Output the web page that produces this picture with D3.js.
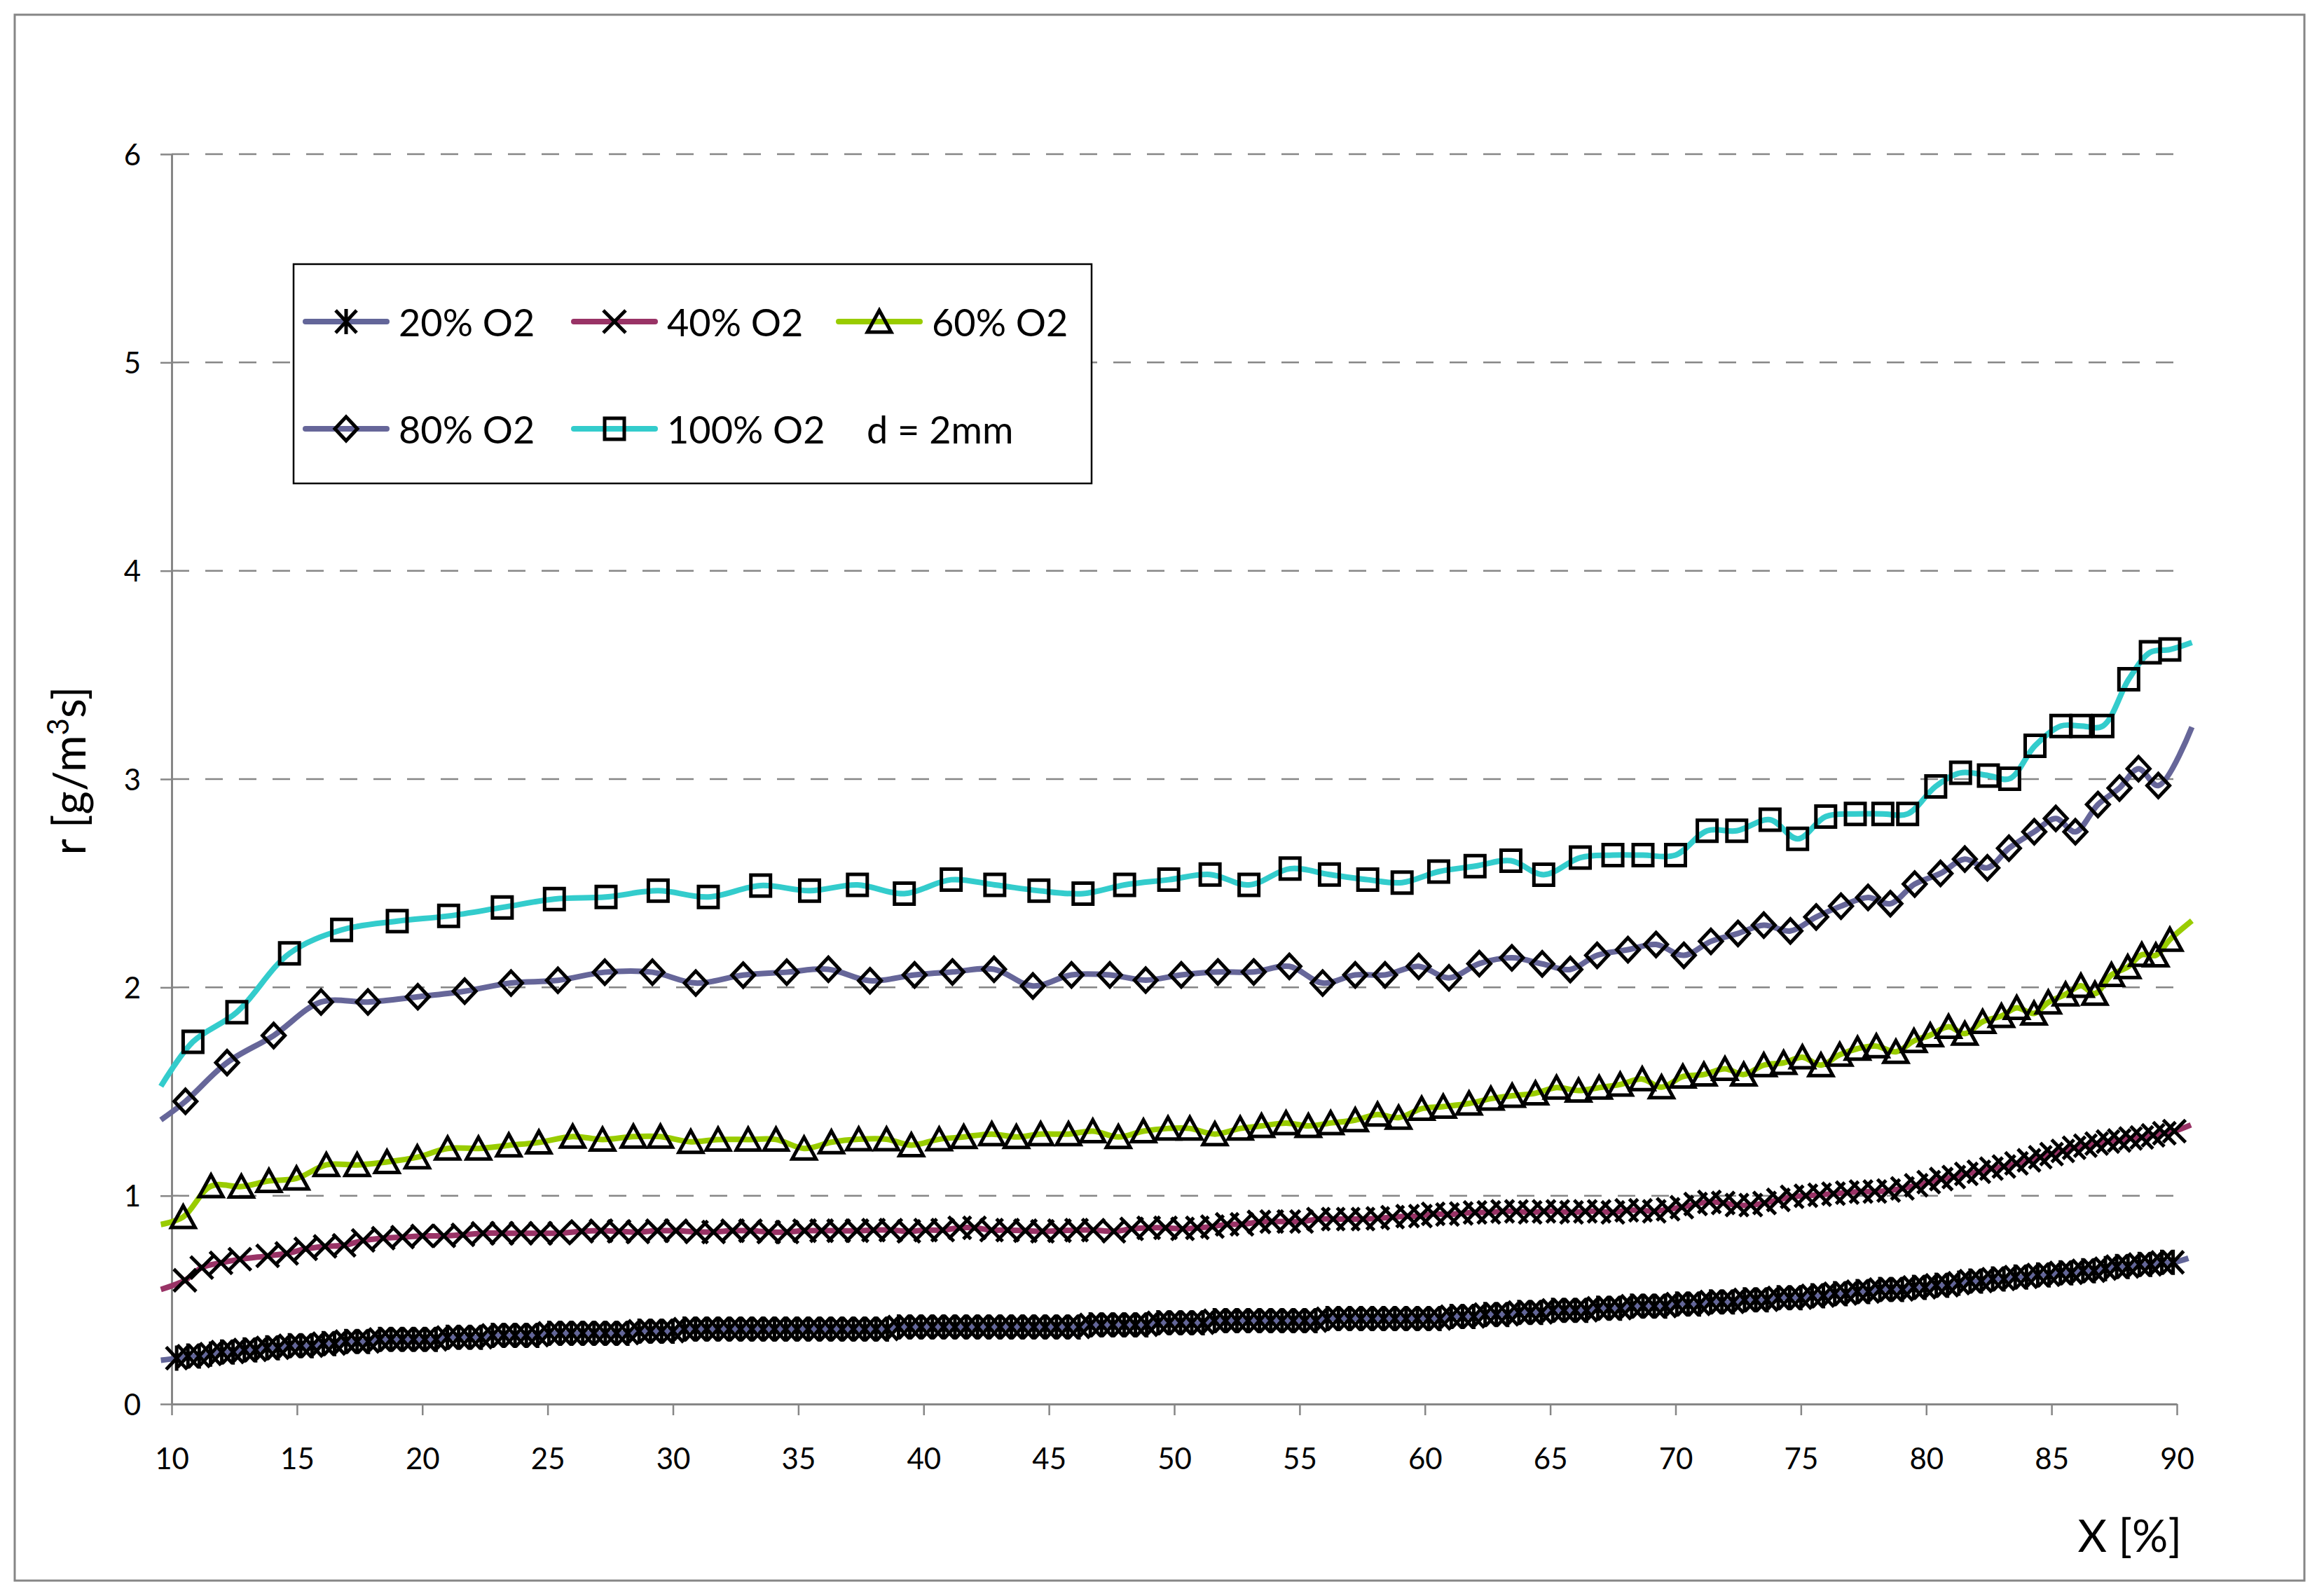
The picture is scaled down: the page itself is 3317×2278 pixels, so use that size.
<!DOCTYPE html>
<html>
<head>
<meta charset="utf-8">
<script src="https://cdn.jsdelivr.net/npm/d3@7"></script>
<style>
  body { margin: 0; background: #ffffff; }
  svg { display: block; font-family: Lato, "Open Sans", sans-serif; }
</style>
</head>
<body>
<svg width="3317" height="2278"></svg>
<script>
// ################################### Data #######################################

var xTicks = [10, 15, 20, 25, 30, 35, 40, 45, 50, 55, 60, 65, 70, 75, 80, 85, 90];
var yTicks = [0, 1, 2, 3, 4, 5, 6];
var seriesNames = ["20% O2", "40% O2", "60% O2", "80% O2", "100% O2"];
var noteText = "d = 2mm";

// [X %, r g/m3s]
var o2_20 = [[9.57,0.21],[10.20,0.22],[10.65,0.23],[11.10,0.23],[11.55,0.24],[12.00,0.25],[12.45,0.25],[12.90,0.26],
  [13.35,0.26],[13.80,0.27],[14.25,0.27],[14.70,0.28],[15.15,0.28],[15.60,0.28],[16.05,0.29],[16.50,0.29],[16.95,0.30],
  [17.40,0.30],[17.85,0.30],[18.30,0.31],[18.75,0.31],[19.20,0.31],[19.65,0.31],[20.10,0.31],[20.55,0.31],[21.00,0.32],
  [21.45,0.32],[21.90,0.32],[22.35,0.32],[22.80,0.33],[23.25,0.33],[23.70,0.33],[24.15,0.33],[24.60,0.33],[25.05,0.34],
  [25.50,0.34],[25.95,0.34],[26.40,0.34],[26.85,0.34],[27.30,0.34],[27.75,0.34],[28.20,0.34],[28.65,0.35],[29.10,0.35],
  [29.55,0.35],[30.00,0.35],[30.45,0.36],[30.90,0.36],[31.35,0.36],[31.80,0.36],[32.25,0.36],[32.70,0.36],[33.15,0.36],
  [33.60,0.36],[34.05,0.36],[34.50,0.36],[34.95,0.36],[35.40,0.36],[35.85,0.36],[36.30,0.36],[36.75,0.36],[37.20,0.36],
  [37.65,0.36],[38.10,0.36],[38.55,0.36],[39.00,0.37],[39.45,0.37],[39.90,0.37],[40.35,0.37],[40.80,0.37],[41.25,0.37],
  [41.70,0.37],[42.15,0.37],[42.60,0.37],[43.05,0.37],[43.50,0.37],[43.95,0.37],[44.40,0.37],[44.85,0.37],[45.30,0.37],
  [45.75,0.37],[46.20,0.37],[46.65,0.38],[47.10,0.38],[47.55,0.38],[48.00,0.38],[48.45,0.38],[48.90,0.38],[49.35,0.39],
  [49.80,0.39],[50.25,0.39],[50.70,0.39],[51.15,0.39],[51.60,0.40],[52.05,0.40],[52.50,0.40],[52.95,0.40],[53.40,0.40],
  [53.85,0.40],[54.30,0.40],[54.75,0.40],[55.20,0.40],[55.65,0.40],[56.10,0.41],[56.55,0.41],[57.00,0.41],[57.45,0.41],
  [57.90,0.41],[58.35,0.41],[58.80,0.41],[59.25,0.41],[59.70,0.41],[60.15,0.41],[60.60,0.41],[61.05,0.42],[61.50,0.42],
  [61.95,0.42],[62.40,0.43],[62.85,0.43],[63.30,0.43],[63.75,0.44],[64.20,0.44],[64.65,0.44],[65.10,0.45],[65.55,0.45],
  [66.00,0.45],[66.45,0.45],[66.90,0.46],[67.35,0.46],[67.80,0.46],[68.25,0.47],[68.70,0.47],[69.15,0.47],[69.60,0.47],
  [70.05,0.48],[70.50,0.48],[70.95,0.48],[71.40,0.49],[71.85,0.49],[72.30,0.49],[72.75,0.50],[73.20,0.50],[73.65,0.50],
  [74.10,0.51],[74.55,0.51],[75.00,0.51],[75.45,0.52],[75.90,0.52],[76.35,0.53],[76.80,0.53],[77.25,0.54],[77.70,0.54],
  [78.15,0.55],[78.60,0.55],[79.05,0.55],[79.50,0.56],[79.95,0.56],[80.40,0.57],[80.85,0.57],[81.30,0.58],[81.75,0.59],
  [82.20,0.59],[82.65,0.60],[83.10,0.60],[83.55,0.61],[84.00,0.61],[84.45,0.62],[84.90,0.62],[85.35,0.63],[85.80,0.63],
  [86.25,0.64],[86.70,0.64],[87.15,0.65],[87.60,0.66],[88.05,0.66],[88.50,0.67],[88.95,0.67],[89.40,0.68],[89.85,0.68],
  [90.46,0.70]];

var o2_40 = [[9.57,0.55],[10.53,0.594],[11.20,0.655],[11.97,0.678],[12.72,0.695],[13.83,0.711],[14.59,0.723],[15.35,0.745],
  [16.12,0.757],[16.88,0.762],[17.64,0.785],[18.44,0.796],[19.21,0.801],[20.01,0.807],[20.86,0.807],[21.62,0.812],
  [22.42,0.820],[23.18,0.820],[23.94,0.820],[24.72,0.820],[25.48,0.820],[26.36,0.829],[27.13,0.832],[27.85,0.829],
  [28.60,0.826],[29.38,0.832],[30.12,0.832],[30.94,0.826],[31.62,0.826],[32.38,0.832],[33.09,0.832],[33.82,0.826],
  [34.55,0.826],[35.25,0.832],[35.93,0.832],[36.61,0.832],[37.34,0.832],[38.00,0.835],[38.69,0.835],[39.41,0.829],
  [40.08,0.835],[40.76,0.835],[41.44,0.846],[42.03,0.846],[42.71,0.835],[43.35,0.835],[44.06,0.832],[44.74,0.829],
  [45.42,0.832],[46.10,0.835],[46.77,0.835],[47.59,0.829],[48.30,0.841],[48.98,0.846],[49.65,0.846],[50.33,0.841],
  [50.92,0.846],[51.52,0.852],[52.11,0.863],[52.70,0.863],[53.38,0.874],[53.89,0.876],[54.57,0.876],[55.08,0.876],
  [55.75,0.888],[56.34,0.888],[56.94,0.888],[57.53,0.888],[58.12,0.891],[58.71,0.897],[59.31,0.902],[59.82,0.902],
  [60.33,0.913],[60.90,0.910],[61.45,0.915],[62.00,0.920],[62.55,0.920],[63.10,0.925],[63.65,0.925],[64.20,0.920],
  [64.75,0.925],[65.30,0.925],[65.85,0.920],[66.40,0.925],[66.95,0.925],[67.50,0.920],[68.05,0.930],[68.60,0.930],
  [69.15,0.925],[69.70,0.935],[70.25,0.945],[70.80,0.960],[71.35,0.970],[71.90,0.965],[72.45,0.955],[73.00,0.955],
  [73.55,0.965],[74.10,0.980],[74.65,0.995],[75.20,1.000],[75.75,1.005],[76.30,1.010],[76.85,1.015],[77.40,1.020],
  [77.95,1.020],[78.50,1.025],[79.05,1.035],[79.60,1.050],[80.10,1.065],[80.60,1.080],[81.10,1.090],[81.60,1.105],
  [82.10,1.115],[82.60,1.130],[83.10,1.140],[83.60,1.155],[84.10,1.170],[84.55,1.185],[85.00,1.200],[85.45,1.215],
  [85.90,1.230],[86.35,1.240],[86.80,1.250],[87.25,1.260],[87.70,1.265],[88.15,1.275],[88.60,1.280],[89.05,1.290],
  [89.50,1.300],[89.90,1.310],[90.56,1.340]];

var o2_60 = [[9.57,0.862],[10.46,0.898],[11.57,1.046],[12.78,1.044],[13.88,1.071],[14.98,1.083],[16.17,1.148],
  [17.40,1.148],[18.59,1.162],[19.80,1.185],[21.01,1.227],[22.24,1.227],[23.45,1.242],[24.65,1.256],[26.00,1.284],
  [27.19,1.270],[28.42,1.284],[29.50,1.284],[30.71,1.259],[31.80,1.270],[33.00,1.270],[34.11,1.270],[35.23,1.227],
  [36.32,1.257],[37.41,1.271],[38.52,1.271],[39.51,1.243],[40.62,1.271],[41.60,1.282],[42.72,1.296],[43.70,1.282],
  [44.67,1.296],[45.78,1.296],[46.75,1.310],[47.77,1.282],[48.77,1.310],[49.75,1.323],[50.62,1.323],[51.62,1.296],
  [52.63,1.323],[53.48,1.335],[54.46,1.349],[55.35,1.335],[56.24,1.349],[57.22,1.363],[58.11,1.390],[58.95,1.375],
  [59.87,1.418],[60.73,1.428],[61.76,1.443],[62.63,1.466],[63.48,1.480],[64.41,1.492],[65.25,1.519],[66.13,1.505],
  [66.95,1.519],[67.79,1.534],[68.67,1.560],[69.44,1.521],[70.29,1.572],[71.13,1.582],[71.97,1.609],[72.72,1.582],
  [73.52,1.627],[74.31,1.638],[75.06,1.665],[75.80,1.627],[76.55,1.677],[77.26,1.706],[78.01,1.718],[78.79,1.691],
  [79.51,1.743],[80.16,1.771],[80.89,1.811],[81.54,1.778],[82.25,1.835],[83.00,1.863],[83.61,1.902],[84.30,1.875],
  [84.87,1.928],[85.56,1.967],[86.17,2.008],[86.73,1.970],[87.39,2.060],[88.04,2.098],[88.60,2.157],[89.16,2.154],
  [89.72,2.229],[90.60,2.320]];

var o2_80 = [[9.57,1.364],[10.55,1.453],[12.21,1.639],[14.07,1.769],[15.96,1.930],[17.83,1.930],[19.82,1.955],
  [21.69,1.982],[23.54,2.021],[25.41,2.034],[27.28,2.073],[29.18,2.073],[30.91,2.021],[32.80,2.059],[34.54,2.073],
  [36.20,2.087],[37.86,2.032],[39.64,2.060],[41.15,2.074],[42.81,2.087],[44.36,2.007],[45.90,2.060],[47.43,2.060],
  [48.86,2.035],[50.28,2.060],[51.74,2.074],[53.17,2.074],[54.59,2.101],[55.92,2.021],[57.22,2.060],[58.41,2.060],
  [59.75,2.101],[60.96,2.046],[62.17,2.114],[63.47,2.142],[64.68,2.113],[65.80,2.086],[66.87,2.154],[68.10,2.181],
  [69.22,2.206],[70.33,2.154],[71.41,2.221],[72.49,2.259],[73.52,2.299],[74.58,2.271],[75.61,2.338],[76.60,2.390],
  [77.68,2.432],[78.57,2.402],[79.54,2.496],[80.57,2.547],[81.54,2.616],[82.44,2.574],[83.30,2.668],[84.31,2.747],
  [85.17,2.811],[85.95,2.747],[86.85,2.878],[87.71,2.957],[88.47,3.050],[89.26,2.969],[90.60,3.250]];

var o2_100 = [[9.57,1.525],[10.85,1.739],[12.60,1.881],[14.70,2.163],[16.78,2.276],[19.00,2.318],[21.05,2.343],
  [23.19,2.384],[25.27,2.424],[27.33,2.434],[29.41,2.464],[31.41,2.434],[33.50,2.489],[35.45,2.464],[37.36,2.492],
  [39.23,2.450],[41.10,2.517],[42.84,2.492],[44.60,2.464],[46.36,2.450],[48.02,2.492],[49.78,2.517],[51.43,2.542],
  [52.98,2.492],[54.62,2.570],[56.19,2.542],[57.72,2.517],[59.09,2.503],[60.55,2.556],[62.00,2.582],[63.43,2.608],
  [64.74,2.541],[66.20,2.623],[67.50,2.635],[68.70,2.635],[70.00,2.635],[71.26,2.752],[72.44,2.752],[73.77,2.805],
  [74.87,2.713],[75.99,2.820],[77.17,2.833],[78.27,2.833],[79.26,2.833],[80.38,2.965],[81.37,3.030],[82.48,3.017],
  [83.33,3.002],[84.34,3.160],[85.37,3.255],[86.17,3.255],[87.05,3.255],[88.08,3.479],[88.94,3.609],[89.72,3.622],
  [90.60,3.656]];

var allSeries = [o2_20, o2_40, o2_60, o2_80, o2_100];

// ################################### Styles #######################################

var lineColors = ["#636699", "#993366", "#99cc00", "#666699", "#33cccc"];
var markerTypes = ["star", "cross", "triangle", "diamond", "square"];
var gridColor = "#868686";

var svg = d3.select("svg");

var plot = {l: 245, r: 3107, t: 220, b: 2004};

var x = d3.scaleLinear().domain([10, 90]).range([plot.l, plot.r]);
var y = d3.scaleLinear().domain([0, 6]).range([plot.b, plot.t]);

// marker outlines, centred on the point
function markerPath(type) {
    if (type == "star") {
        return "M-15,-16L15,16M-15,16L15,-16M0,-18L0,18";
    } else if (type == "cross") {
        return "M-16,-16L16,16M-16,16L16,-16";
    } else if (type == "triangle") {
        return "M0,-16L17,15L-17,15Z";
    } else if (type == "diamond") {
        return "M0,-17L16,0L0,17L-16,0Z";
    } else {
        return "M-14,-15H14V15H-14Z";
    }
}

// ################################### Frame #######################################

svg.append("rect")
    .attr("x", 0).attr("y", 0)
    .attr("width", 3317).attr("height", 2278)
    .attr("fill", "#ffffff");

svg.append("rect")
    .attr("x", 21).attr("y", 21)
    .attr("width", 3268).attr("height", 2235)
    .attr("fill", "none")
    .attr("stroke", gridColor)
    .attr("stroke-width", 3);

// dashed gridlines
svg.append("g").selectAll("line")
    .data(yTicks.filter(function(d) { return d > 0; }))
    .enter()
    .append("line")
    .attr("x1", plot.l)
    .attr("x2", plot.r)
    .attr("y1", function(d) { return y(d); })
    .attr("y2", function(d) { return y(d); })
    .attr("stroke", gridColor)
    .attr("stroke-width", 2.5)
    .attr("stroke-dasharray", "25,23");

// ################################### Axes #######################################

var xAxisG = svg.append("g")
    .attr("transform", "translate(0," + plot.b + ")")
    .call(d3.axisBottom(x).tickValues(xTicks).tickSize(16).tickSizeOuter(0));

var yAxisG = svg.append("g")
    .attr("transform", "translate(" + plot.l + ",0)")
    .call(d3.axisLeft(y).tickValues(yTicks).tickSize(16).tickSizeOuter(0).tickFormat(d3.format("d")));

[xAxisG, yAxisG].forEach(function(g) {
    g.select(".domain").attr("stroke", gridColor).attr("stroke-width", 3);
    g.selectAll(".tick line").attr("stroke", gridColor).attr("stroke-width", 2.5);
    g.selectAll(".tick text")
        .attr("fill", "#000")
        .style("font-family", "Lato, 'Open Sans', sans-serif")
        .style("font-size", "42px");
});

xAxisG.selectAll(".tick text").attr("y", 93).attr("dy", 0);
yAxisG.selectAll(".tick text").attr("x", -44).attr("dy", "0.36em");

// axis titles
svg.append("text")
    .attr("x", 3114)
    .attr("y", 2215)
    .attr("text-anchor", "end")
    .style("font-size", "64px")
    .text("X [%]");

var yTitle = svg.append("text")
    .attr("transform", "translate(122,1100) rotate(-90)")
    .attr("text-anchor", "middle")
    .style("font-size", "64px");
yTitle.append("tspan").text("r [g/m");
yTitle.append("tspan").attr("dy", -24).style("font-size", "42px").text("3");
yTitle.append("tspan").attr("dy", 24).text("s]");

// ################################### Series #######################################

var lineGen = d3.line()
    .x(function(d) { return x(d[0]); })
    .y(function(d) { return y(d[1]); })
    .curve(d3.curveCatmullRom.alpha(0.5));

allSeries.forEach(function(data, i) {
    var g = svg.append("g");

    g.append("path")
        .datum(data)
        .attr("d", lineGen)
        .attr("fill", "none")
        .attr("stroke", lineColors[i])
        .attr("stroke-width", 8)
        .attr("stroke-linejoin", "round");

    // markers are only drawn inside the axis range
    g.selectAll("path.marker")
        .data(data.filter(function(d) { return d[0] >= 10 && d[0] <= 90; }))
        .enter()
        .append("path")
        .attr("class", "marker")
        .attr("transform", function(d) { return "translate(" + x(d[0]) + "," + y(d[1]) + ")"; })
        .attr("d", markerPath(markerTypes[i]))
        .attr("fill", "none")
        .attr("stroke", "#000")
        .attr("stroke-width", 5);
});

// ################################### Legend #######################################

var legendG = svg.append("g");

legendG.append("rect")
    .attr("x", 419).attr("y", 377)
    .attr("width", 1139).attr("height", 313)
    .attr("fill", "#ffffff")
    .attr("stroke", "#000")
    .attr("stroke-width", 2.5);

var legendCols = [436, 819, 1197];
var legendRows = [459, 612];

seriesNames.forEach(function(name, i) {
    var cx = legendCols[i % 3];
    var cy = legendRows[Math.floor(i / 3)];

    legendG.append("line")
        .attr("x1", cx).attr("x2", cx + 116)
        .attr("y1", cy).attr("y2", cy)
        .attr("stroke", lineColors[i])
        .attr("stroke-width", 8)
        .attr("stroke-linecap", "round");

    legendG.append("path")
        .attr("transform", "translate(" + (cx + 58) + "," + cy + ")")
        .attr("d", markerPath(markerTypes[i]))
        .attr("fill", "none")
        .attr("stroke", "#000")
        .attr("stroke-width", 5);

    legendG.append("text")
        .attr("x", cx + 133)
        .attr("y", cy + 21)
        .style("font-size", "54px")
        .text(name);
});

legendG.append("text")
    .attr("x", 1237)
    .attr("y", legendRows[1] + 21)
    .style("font-size", "54px")
    .text(noteText);
</script>
</body>
</html>
